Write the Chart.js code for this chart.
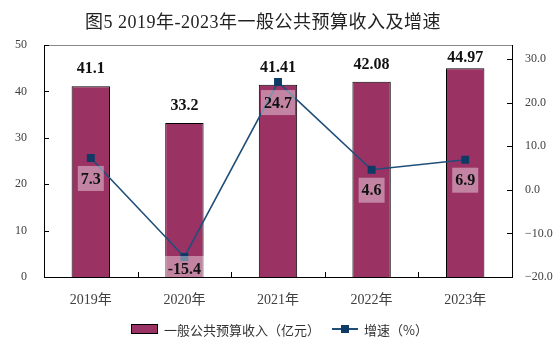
<!DOCTYPE html>
<html>
<head>
<meta charset="utf-8">
<script src="https://cdn.jsdelivr.net/npm/chart.js@4.4.0/dist/chart.umd.min.js"></script>
<style>
  body { margin: 0; background: #fff; }
  #wrap { position: relative; width: 558px; height: 354px; }
  #chart { position: absolute; left: 0; top: 0; }
  #title { position: absolute; left: 0; top: 7px; width: 526px; text-align: center;
           font: 18px "Liberation Serif", "Noto Sans CJK SC"; color: #222; white-space: nowrap; letter-spacing: 0.5px; }
  #legend { position: absolute; left: 131px; top: 320px; height: 18px; display: flex; align-items: center;
            font: 13px "Noto Sans CJK SC"; color: #333; white-space: nowrap; }
  .sw-bar { width: 25px; height: 8px; background: #9a3264; border: 1px solid #000; margin-right: 6px; }
  .sw-line { position: relative; width: 26px; height: 10px; margin: 0 6px 0 12px; }
  .sw-line::before { content: ""; position: absolute; left: 0; right: 0; top: 4px; height: 2px; background: #1f4e79; }
  .sw-line::after { content: ""; position: absolute; left: 9px; top: 1px; width: 8px; height: 8px; background: #0f3a66; }
</style>
</head>
<body>
<div id="wrap">
  <canvas id="chart" width="558" height="354"></canvas>
  <div id="title">图5 2019年-2023年一般公共预算收入及增速</div>
  <div id="legend">
    <span class="sw-bar"></span><span>一般公共预算收入（亿元）</span>
    <span class="sw-line"></span><span>增速（%）</span>
  </div>
</div>
<script>
// ─── Дані ────────────────────────────────────────────────────────────────────
const years = ["2019年", "2020年", "2021年", "2022年", "2023年"];
const revenue = [41.1, 33.2, 41.41, 42.08, 44.97];
const revenueText = ["41.1", "33.2", "41.41", "42.08", "44.97"];
const growth = [7.3, -15.4, 24.7, 4.6, 6.9];
const growthText = ["7.3", "-15.4", "24.7", "4.6", "6.9"];
const leftTicks = [0, 10, 20, 30, 40, 50];
const rightTicks = [-20, -10, 0, 10, 20, 30];

const SERIF = '"Liberation Serif", "Noto Sans CJK SC"';
const BAR_COLOR = "#9a3264";
const LINE_COLOR = "#1f4e79";
const MARK_COLOR = "#0f3a66";

// ─── Підписи значень ─────────────────────────────────────────────────────────
const valueLabels = {
  id: "valueLabels",
  afterDatasetsDraw(chart) {
    const ctx = chart.ctx;
    const area = chart.chartArea;
    ctx.save();
    ctx.font = "bold 16px " + SERIF;
    ctx.fillStyle = "#111";
    ctx.textAlign = "center";
    ctx.textBaseline = "alphabetic";
    chart.getDatasetMeta(0).data.forEach((bar, i) => {
      // підпис не виходить за верх області графіка
      ctx.fillText(revenueText[i], bar.x, Math.max(bar.y - 13, area.top + 17));
    });

    ctx.beginPath();
    ctx.rect(area.left, area.top, area.right - area.left, area.bottom - area.top);
    ctx.clip();
    ctx.textBaseline = "middle";
    chart.getDatasetMeta(1).data.forEach((pt, i) => {
      const w = ctx.measureText(growthText[i]).width + 6;
      const h = 25;
      const top = Math.min(pt.y + 8, area.bottom - 21);
      ctx.fillStyle = "rgba(255,255,255,0.4)";
      ctx.fillRect(pt.x - w / 2, top, w, h);
      ctx.fillStyle = "#111";
      ctx.fillText(growthText[i], pt.x, top + h / 2 + 1);
    });
    ctx.restore();
  }
};

// ─── Внутрішні засічки та верхня рамка ───────────────────────────────────────
const innerTicks = {
  id: "innerTicks",
  afterDraw(chart) {
    const ctx = chart.ctx;
    const a = chart.chartArea;
    const { x, y, y1 } = chart.scales;
    ctx.save();
    ctx.strokeStyle = "#888";
    ctx.lineWidth = 1;
    ctx.beginPath();
    ctx.moveTo(a.left, a.top + 0.5);
    ctx.lineTo(a.right, a.top + 0.5);
    ctx.stroke();

    ctx.strokeStyle = "#000";
    ctx.beginPath();
    leftTicks.forEach(v => {
      const py = Math.round(y.getPixelForValue(v)) + 0.5;
      ctx.moveTo(a.left, py);
      ctx.lineTo(a.left + 5, py);
    });
    rightTicks.forEach(v => {
      const py = Math.round(y1.getPixelForValue(v)) + 0.5;
      ctx.moveTo(a.right, py);
      ctx.lineTo(a.right - 5, py);
    });
    for (let i = 0; i < years.length - 1; i++) {
      const px = Math.round(x.getPixelForValue(i + 0.5)) + 0.5;
      ctx.moveTo(px, a.bottom);
      ctx.lineTo(px, a.bottom - 5);
    }
    ctx.stroke();
    ctx.restore();
  }
};

new Chart(document.getElementById("chart"), {
  data: {
    labels: years,
    datasets: [
      {
        type: "bar",
        label: "一般公共预算收入（亿元）",
        data: revenue,
        yAxisID: "y",
        backgroundColor: BAR_COLOR,
        borderColor: "#000",
        borderWidth: 1,
        categoryPercentage: 1,
        barPercentage: 0.41,
        order: 2
      },
      {
        type: "line",
        label: "增速（%）",
        data: growth,
        yAxisID: "y1",
        borderColor: LINE_COLOR,
        borderWidth: 1.6,
        pointStyle: "rect",
        pointRadius: 5.6,
        pointBackgroundColor: MARK_COLOR,
        pointBorderWidth: 0,
        tension: 0,
        order: 1
      }
    ]
  },
  options: {
    responsive: false,
    animation: false,
    devicePixelRatio: 1,
    layout: { padding: { top: 45, left: 0, right: 0, bottom: 0 } },
    plugins: { legend: { display: false }, tooltip: { enabled: false } },
    scales: {
      x: {
        offset: true,
        grid: { display: false },
        border: { color: "#000", width: 1 },
        ticks: { font: { family: SERIF, size: 14 }, color: "#404040", padding: 7 },
        afterFit: s => { s.height = 77; }
      },
      y: {
        position: "left",
        min: 0,
        max: 50,
        grid: { display: false },
        border: { color: "#000", width: 1 },
        ticks: { stepSize: 10, font: { family: SERIF, size: 12 }, color: "#404040", padding: 9 },
        afterFit: s => { s.width = 44; }
      },
      y1: {
        position: "right",
        min: -20,
        max: 33.2,
        grid: { display: false },
        border: { color: "#000", width: 1 },
        afterBuildTicks: s => { s.ticks = rightTicks.map(v => ({ value: v })); },
        ticks: {
          font: { family: SERIF, size: 12 },
          color: "#404040",
          padding: 5,
          callback: v => (v < 0 ? "\u2212" + Math.abs(v).toFixed(1) : v.toFixed(1))
        },
        afterFit: s => { s.width = 46; }
      }
    }
  },
  plugins: [valueLabels, innerTicks]
});
</script>
</body>
</html>
